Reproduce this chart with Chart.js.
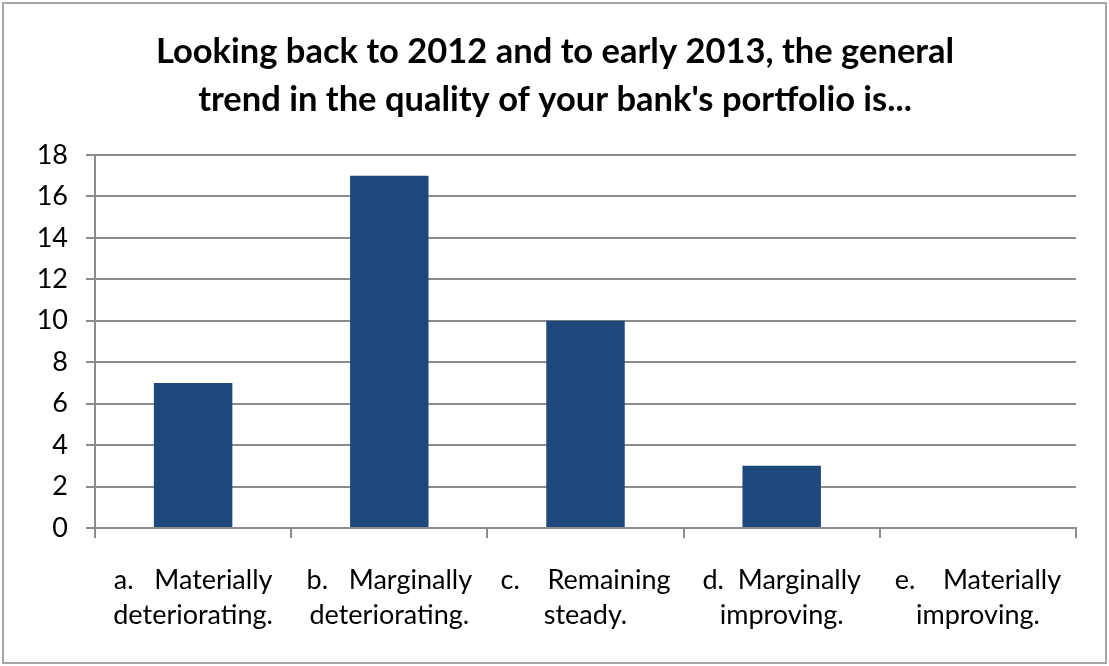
<!DOCTYPE html>
<html>
<head>
<meta charset="utf-8">
<script src="https://cdn.jsdelivr.net/npm/chart.js@4"></script>
<style>
  html, body { margin: 0; padding: 0; background: #fff; }
  #frame {
    position: absolute; left: 2px; top: 2px;
    width: 1101px; height: 658px;
    border: 2px solid #a6a6a6;
  }
  #wrap { position: absolute; left: 0; top: 0; width: 1109px; height: 666px; }
</style>
</head>
<body>
<div id="frame"></div>
<div id="wrap"><canvas id="myChart"></canvas></div>
<script>
'use strict';

// chart data
let answerLabels = [
  ['a.   Materially', 'deteriorating.'],
  ['b.   Marginally', 'deteriorating.'],
  ['c.    Remaining', 'steady.'],
  ['d.  Marginally', 'improving.'],
  ['e.    Materially', 'improving.']
];
let answerCounts = [7, 17, 10, 3, 0];
let titleLines = [
  'Looking back to 2012 and to early 2013, the general',
  'trend in the quality of your bank\'s portfolio is...'
];

const ctx = document.getElementById('myChart');
let fontName = 'Lato, "Open Sans", sans-serif';
let gridColor = '#8c8c8c';

let chartObj = {
  type: 'bar',
  data: {
    labels: answerLabels,
    datasets: [{
      data: answerCounts,
      backgroundColor: '#1f497d',
      barPercentage: 0.4,
      categoryPercentage: 1.0
    }]
  },
  options: {
    responsive: true,
    maintainAspectRatio: false,
    animation: false,
    layout: { padding: { left: 17, right: 16, top: 0, bottom: 0 } },
    plugins: {
      legend: { display: false },
      tooltip: { enabled: false },
      title: {
        display: true,
        text: titleLines,
        color: '#000',
        font: { family: fontName, size: 34.5, weight: 'bold', lineHeight: 1.39 },
        padding: { top: 28, bottom: 31 }
      }
    },
    scales: {
      y: {
        min: 0,
        max: 18,
        ticks: { stepSize: 2, color: '#000', font: { family: fontName, size: 27 }, padding: 18 },
        grid: { color: gridColor, lineWidth: 2, tickLength: 9 },
        border: { color: gridColor, width: 2 },
        afterFit: function(scale) { scale.width = 78; }
      },
      // empty right-hand spacer so the title centres on the whole frame
      spacer: {
        type: 'linear',
        position: 'right',
        ticks: { display: false },
        grid: { display: false },
        border: { display: false },
        afterFit: function(scale) { scale.width = 17; }
      },
      x: {
        ticks: { color: '#000', font: { family: fontName, size: 27, lineHeight: 1.3 }, padding: 25, maxRotation: 0, autoSkip: false },
        grid: { color: gridColor, lineWidth: 2, tickLength: 10, drawOnChartArea: false, offset: true },
        border: { color: gridColor, width: 2 },
        afterFit: function(scale) { scale.height = 138; }
      }
    }
  }
};

new Chart(ctx, chartObj);
</script>
</body>
</html>
